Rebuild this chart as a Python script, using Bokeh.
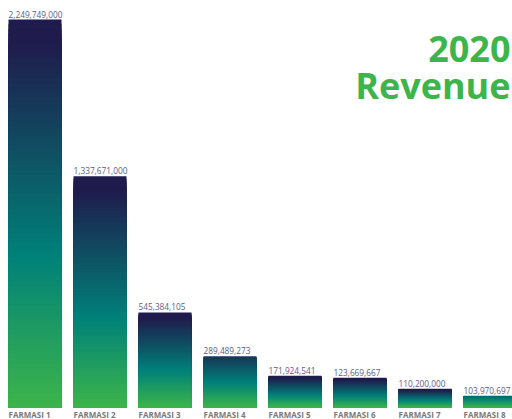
from bokeh.plotting import figure
from bokeh.models import Range1d, ColumnDataSource
from bokeh.core.properties import value
from bokeh.embed import file_html
from bokeh.resources import INLINE

# ---- data ----
categories = ["FARMASI 1", "FARMASI 2", "FARMASI 3", "FARMASI 4",
              "FARMASI 5", "FARMASI 6", "FARMASI 7", "FARMASI 8"]
value_labels = ["2,249,749,000", "1,337,671,000", "545,384,105", "289,489,273",
                "171,924,541", "123,669,667", "110,200,000", "103,970,697"]
# bar heights as drawn (millions)
bar_heights = [2249.7, 1341, 551, 297, 184, 172, 108, 68]
title_lines = ["2020", "Revenue"]

# ---- style ----
ramp_stops = [0.0, 0.39, 0.94, 1.0]
ramp_cols = [(0x3d, 0xb5, 0x4a), (0x00, 0x81, 0x79), (0x1f, 0x1b, 0x4c), (0x1f, 0x1b, 0x4c)]
ramp_top = [1.0, 1.0, 1.0, 0.80, 1.0, 1.0, 1.0, 0.55]  # ramp fraction reached at bar top
PX_X = 65.0
BAR_W = 53 / PX_X
GREEN = "#3cb54a"
W, H = 512, 419


def ramp(t):
    for k in range(len(ramp_stops) - 1):
        a, b = ramp_stops[k], ramp_stops[k + 1]
        if t <= b:
            f = (t - a) / (b - a) if b > a else 0
            c0, c1 = ramp_cols[k], ramp_cols[k + 1]
            return "#%02x%02x%02x" % tuple(int(round(c0[j] + (c1[j] - c0[j]) * f)) for j in range(3))
    return "#%02x%02x%02x" % ramp_cols[-1]


px_per_unit = 388 / 2249.7
y_start = -12 / px_per_unit
y_end = 407 / px_per_unit
x_start = -BAR_W / 2 - 8 / PX_X
x_end = x_start + W / PX_X

p = figure(width=W, height=H, output_backend="svg", toolbar_location=None,
           x_range=Range1d(x_start, x_end), y_range=Range1d(y_start, y_end),
           min_border=0, min_border_left=0, min_border_right=0,
           min_border_top=0, min_border_bottom=0)
p.axis.visible = False
p.grid.visible = False
p.outline_line_color = None
p.background_fill_color = "white"
p.border_fill_color = "white"

# gradient bars: nested strips from the baseline, tallest drawn first
N = 80
L, R, T, C = [], [], [], []
for s in range(N):
    t = 1 - s / N
    for i, h in enumerate(bar_heights):
        L.append(i - BAR_W / 2)
        R.append(i + BAR_W / 2)
        T.append(h * t)
        C.append(ramp((t - 0.5 / N) * ramp_top[i]))
src = ColumnDataSource(dict(left=L, right=R, top=T, bottom=[0] * len(T), color=C))
p.quad(left="left", right="right", top="top", bottom="bottom", fill_color="color",
       line_color=None, source=src)

xs_left = [i - BAR_W / 2 for i in range(len(categories))]

# value labels
p.text(x=xs_left, y=bar_heights, text=value_labels, text_align="left",
       text_baseline="alphabetic", y_offset=-5.5, text_font=value("Open Sans"),
       text_font_size="8.3px", text_color="#5b5b8c")

# category labels
p.text(x=xs_left, y=[0] * len(categories), text=categories, text_align="left",
       text_baseline="alphabetic", y_offset=7, text_font=value("Open Sans"),
       text_font_size="8px", text_font_style="bold", text_color="#7a7a7a")

# title
p.text(x=[x_end, x_end], y=[y_end, y_end], text=title_lines, text_align="right",
       text_baseline="alphabetic", x_offset=-2, y_offset=[48.3, 85],
       text_font=value("Open Sans"), text_font_size="36px", text_font_style="bold",
       text_color=GREEN)

open("out.html", "w").write(file_html(p, INLINE))
